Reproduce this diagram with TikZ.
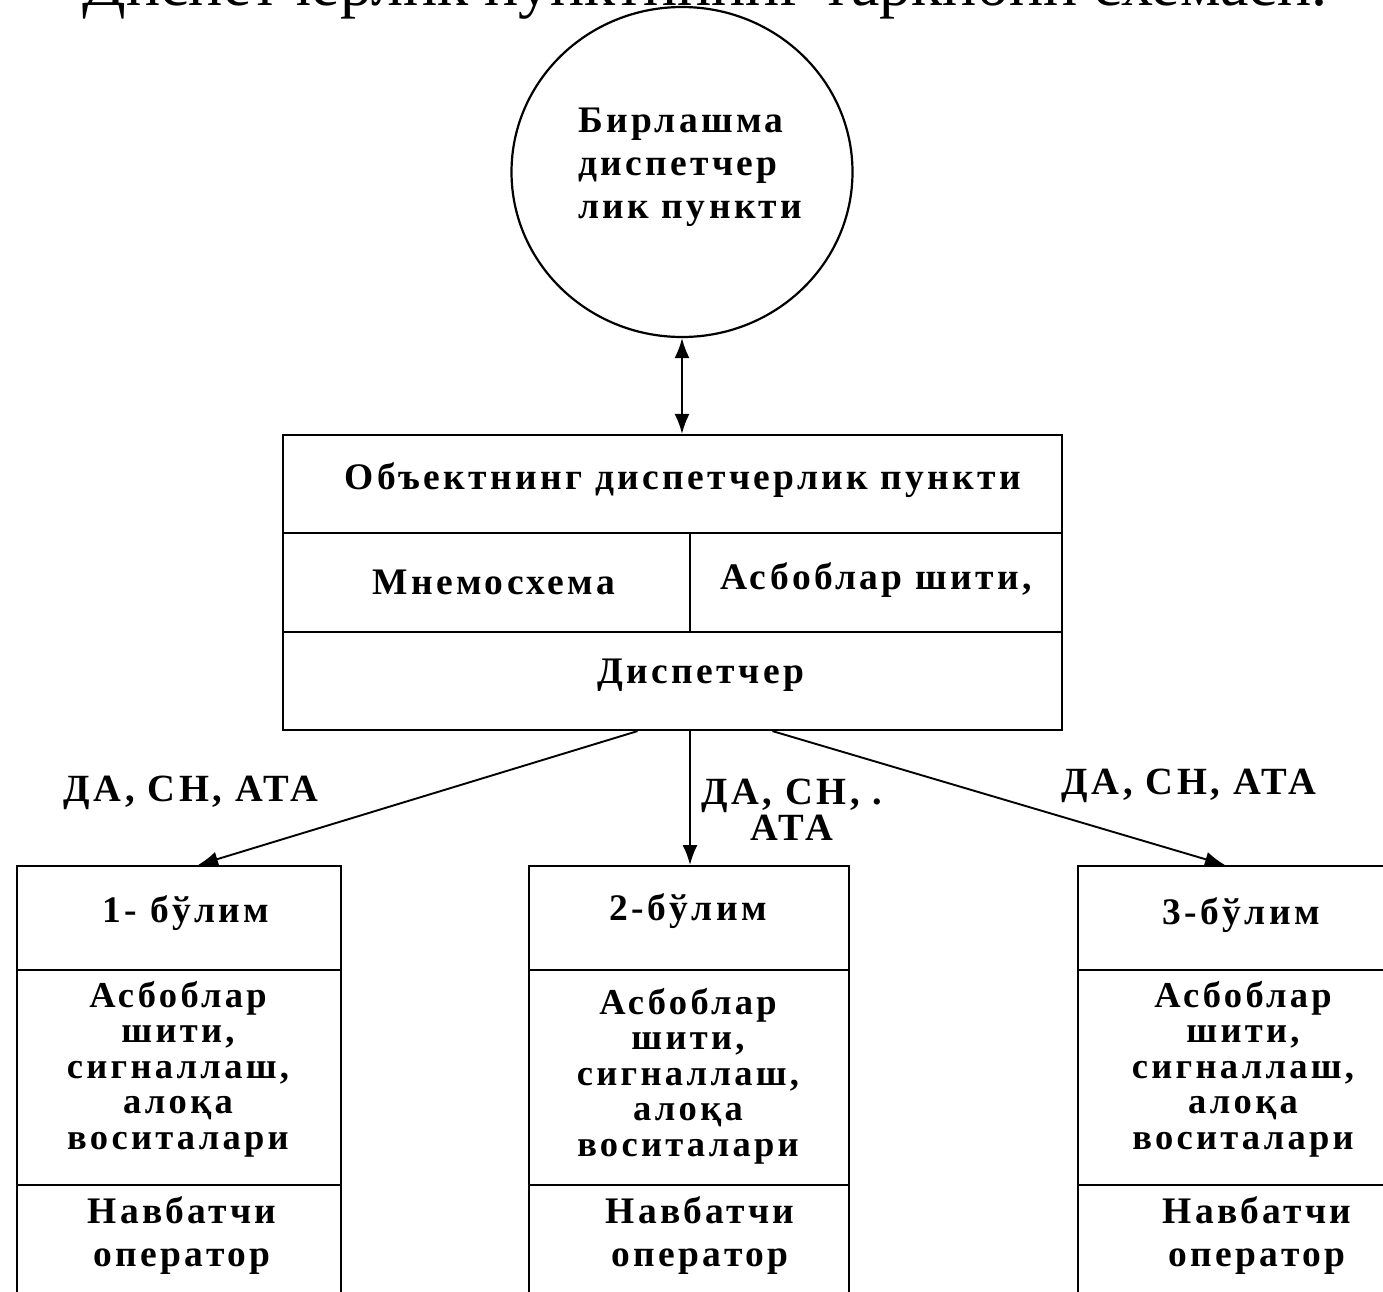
\documentclass[tikz,border=0pt]{standalone}
\usepackage{fontspec}
\setmainfont{Liberation Serif}
\newfontfamily\cellfont{Liberation Serif}[LetterSpace=9]
\usetikzlibrary{shapes.geometric,arrows.meta,positioning}

\tikzset{
  frame/.style={draw, line width=2.2pt, inner sep=0pt},
  txt/.style={font=\cellfont\bfseries\fontsize{37.5}{43}\selectfont, align=center, inner sep=0pt},
  small/.style={font=\cellfont\bfseries\fontsize{36.5}{35.5}\selectfont},
  lbl/.style={font=\cellfont\bfseries\fontsize{38.5}{36}\selectfont, align=center, inner sep=0pt},
  link/.style={line width=1.9pt, -{Latex[length=20pt,width=15pt]}},
}

\begin{document}
\begin{tikzpicture}[x=1pt,y=-1pt]
    \useasboundingbox (0,0) rectangle (1383,1291);
    % title, cut off by the page
    \node[anchor=base, inner sep=0pt, font=\fontsize{64}{70}\selectfont] (title) at (705,5) {Диспетчерлик пунктининг таркибий схемаси.};

    % top point
    \node[frame, ellipse, minimum width=341pt, minimum height=330pt] (bp) at (682,172) {};
    \node[txt, align=left, anchor=west] (bptxt) at (578,167) {Бирлашма\\диспетчер\\лик пункти};

    % object point
    \node[frame, minimum width=779pt, minimum height=295pt] (dp) at (672.5,582.5) {};
    \draw[line width=2.2pt] (283,533) -- (1062,533);
    \draw[line width=2.2pt] (283,632) -- (1062,632);
    \draw[line width=2.2pt] (690,533) -- (690,632);
    \node[txt] (obj) at (683,480) {Объектнинг диспетчерлик пункти};
    \node[txt] (mnemo) at (494,582) {Мнемосхема};
    \node[txt] (shit) at (876,580) {Асбоблар шити,};
    \node[txt] (disp) at (701,675) {Диспетчер};

    % departments
    \foreach \n/\bx/\bw in {1/179/324, 2/689/320, 3/1243/330} {
        \node[frame, anchor=north, minimum width=\bw pt, minimum height=440pt] (b\n) at (\bx,865) {};
        \draw[line width=2.2pt] ([yshift=-105pt]b\n.north west) -- ([yshift=-105pt]b\n.north east);
        \draw[line width=2.2pt] ([yshift=-320pt]b\n.north west) -- ([yshift=-320pt]b\n.north east);
    }
    \node[txt] (h1) at (186,913) {1- бўлим};
    \node[txt] (h2) at (688,911) {2-бўлим};
    \node[txt] (h3) at (1241,915) {3-бўлим};
    \node[txt, small] (a1) at (178,1069) {Асбоблар\\шити,\\сигналлаш,\\алоқа\\воситалари};
    \node[txt, small] (a2) at (688,1076) {Асбоблар\\шити,\\сигналлаш,\\алоқа\\воситалари};
    \node[txt, small] (a3) at (1243,1069) {Асбоблар\\шити,\\сигналлаш,\\алоқа\\воситалари};
    \node[txt] (n1) at (182,1236) {Навбатчи\\оператор};
    \node[txt] (n2) at (700,1236) {Навбатчи\\оператор};
    \node[txt] (n3) at (1257,1236) {Навбатчи\\оператор};

    % links
    \draw[link, {Latex[length=20pt,width=15pt]}-{Latex[length=20pt,width=15pt]}] (bp.south) -- (bp.south |- dp.north);
    \draw[link] ([xshift=-35pt]dp.south) -- ([xshift=19pt]b1.north);
    \draw[link] ([xshift=17.5pt]dp.south) -- ([xshift=17.5pt]dp.south |- b2.north);
    \draw[link] ([xshift=100pt]dp.south) -- ([xshift=-18pt]b3.north);

    \node[lbl] (l1) at (191,793) {ДА, СН, АТА};
    \node[lbl] (l2) at (792,810) {ДА, СН, .\\АТА};
    \node[lbl] (l3) at (1189,786) {ДА, СН, АТА};
\end{tikzpicture}
\end{document}
